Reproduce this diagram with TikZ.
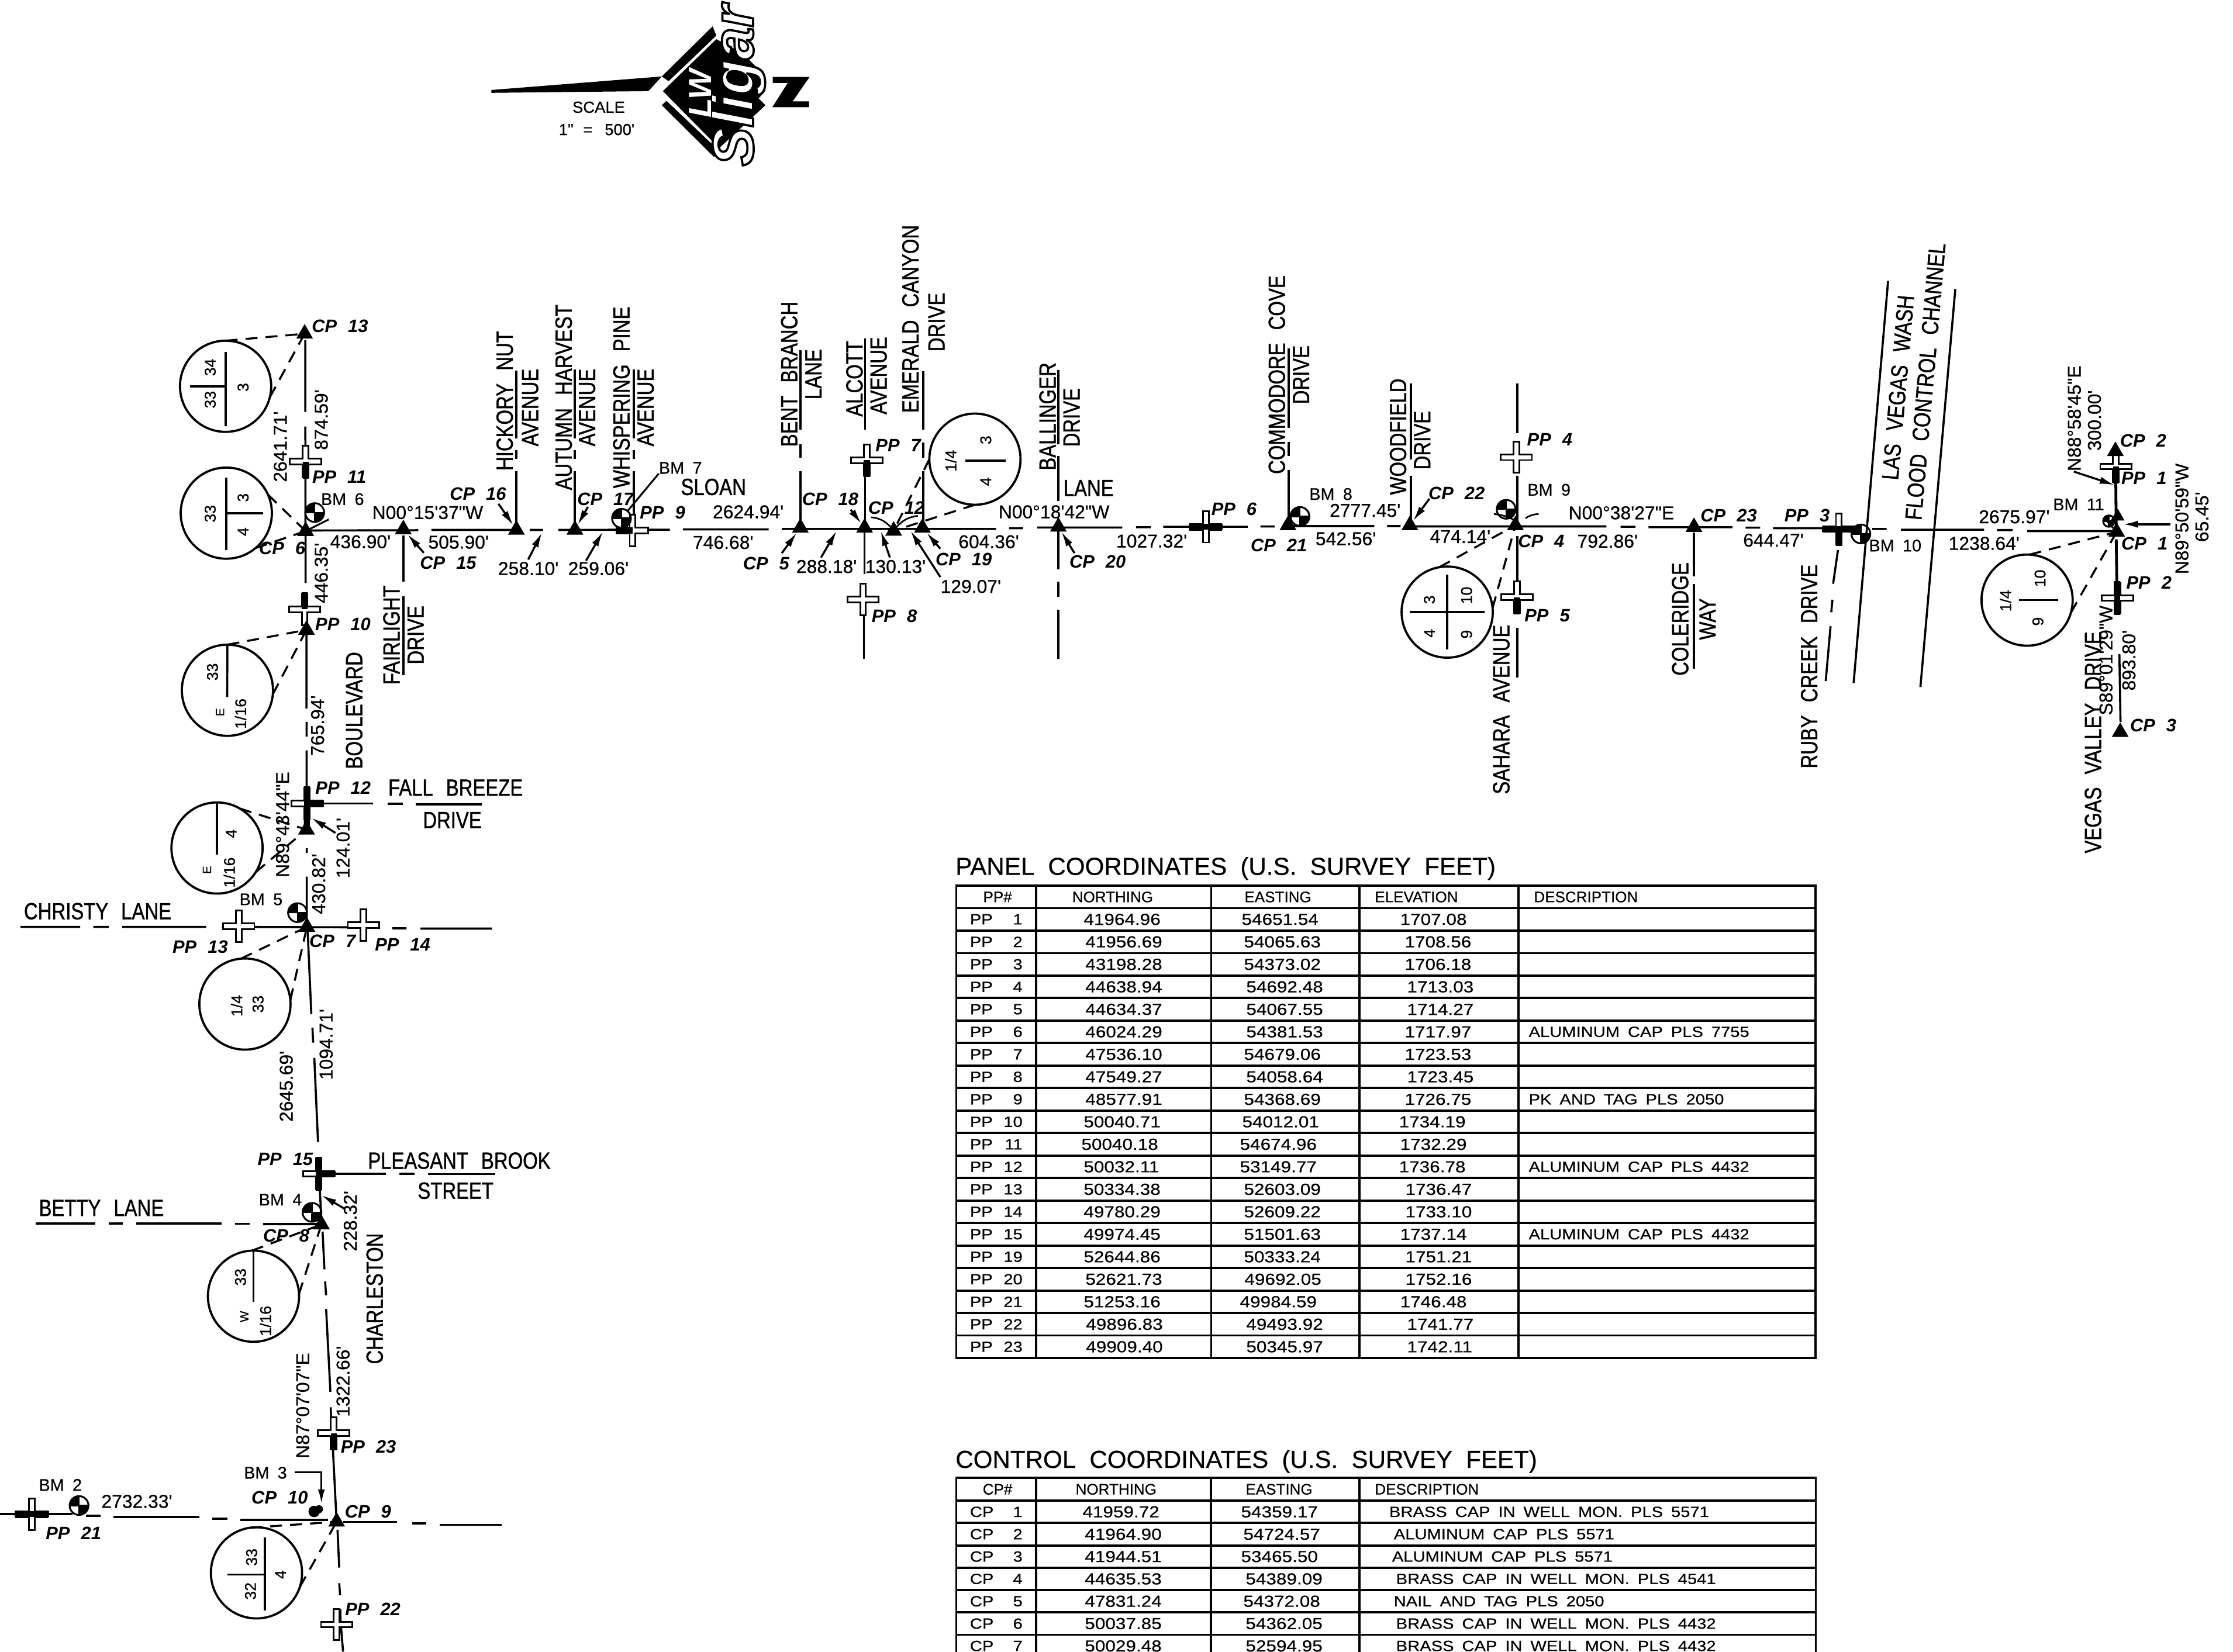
\documentclass[tikz,border=0pt]{standalone}
\usepackage{fontspec}
\usetikzlibrary{shapes.geometric,arrows.meta}
\newfontfamily\lf{Liberation Sans}
\newfontfamily\dmf{Liberation Sans}[FakeBold=.5]
\newfontfamily\stf{Liberation Sans}[FakeStretch=.82,FakeBold=1.1]
\newfontfamily\tbf{Liberation Sans}[FakeStretch=1.15,FakeBold=.5]
\newcount\tn
\newcommand\T[4]{\global\advance\tn by 1 \node[#1] (t\the\tn) at (#2,#3) {#4};}
\tikzset{
 x=.025cm,y=-.025cm,
 every node/.style={inner sep=0,outer sep=0},
 dm/.style={font=\dmf\fontsize{9.3}{10}\selectfont\spaceskip.5em\relax},
 cpl/.style={font=\lf\itshape\bfseries\fontsize{9}{10}\selectfont\spaceskip.62em\relax},
 bml/.style={font=\dmf\fontsize{8.4}{10}\selectfont\spaceskip.5em\relax},
 stn/.style={font=\stf\fontsize{11.7}{12}\selectfont\spaceskip.55em\relax},
 smm/.style={font=\dmf\fontsize{7.8}{9}\selectfont},
 tiny2/.style={font=\dmf\fontsize{6}{7}\selectfont},
 vert/.style={rotate=90},
 ttl/.style={anchor=west,font=\dmf\fontsize{12.3}{14}\selectfont\spaceskip.55em\relax},
 hd/.style={anchor=west,font=\dmf\fontsize{7.6}{9}\selectfont},
 td/.style={anchor=west,font=\tbf\fontsize{8}{9}\selectfont},
 tx/.style={anchor=west,font=\tbf\fontsize{7.4}{9}\selectfont\spaceskip.55em\relax},
 tnum/.style={anchor=east,font=\tbf\fontsize{7.4}{9}\selectfont},
 rd/.style={line width=1.05pt},
 ld/.style={line width=1pt,dash pattern=on 6pt off 4pt},
 ar/.style={line width=1pt,-{Latex[length=7.5pt,width=3.6pt]}},
 arm/.style={line width=3pt},
 tbl/.style={line width=1.1pt},
 cptri/.style={regular polygon,regular polygon sides=3,fill=black,minimum size=.34cm},
 secc/.style={circle,draw,line width=1.1pt,minimum size=1.6cm},
 ppmark/.style={minimum size=.6cm,path picture={\draw[line width=.85pt,fill=white] (-11,-2)--(-2,-2)--(-2,-11)--(2,-11)--(2,-2)--(11,-2)--(11,2)--(2,2)--(2,11)--(-2,11)--(-2,2)--(-11,2)--cycle;}},
 bmk/.style={circle,draw,line width=.9pt,minimum size=.33cm,path picture={\fill (0,0)--(-7,0)--(-7,-7)--(0,-7)--cycle;\fill (0,0)--(7,0)--(7,7)--(0,7)--cycle;\draw[line width=.7pt] (-7,0)--(7,0) (0,-7)--(0,7);}},
}
\begin{document}
\begin{tikzpicture}
\useasboundingbox (0,0) rectangle (1568,1160);
\clip (0,0) rectangle (1568,1160);
% ---------- north arrow and logo
\fill (345,63.2)--(464.7,53.7)--(455.3,64)--(345,65.2)--cycle;
\fill (464.7,53.7)--(500.4,18.5)--(503,25)--(469.5,57)--cycle;
\fill (465.5,64)--(503,27.5)--(520.8,37)--(537,52.7)--(532.7,58.9)--(537.5,63.7)--(532.7,69.1)--(537.5,73.9)--(505,104)--(501.5,100.5)--cycle;
\fill (464.7,73.9)--(468,70.8)--(505,106)--(501.3,110.2)--cycle;
\fill (542.6,54)--(568.5,54)--(556.6,71.2)--(568.1,71.2)--(568.1,75.3)--(542.3,75.3)--(553.2,58.2)--(542.6,58.2)--cycle;
\node[rotate=90,text=white,font=\lf\bfseries\itshape\fontsize{29}{30}\selectfont] (sligar) at (518.3,60) {\special{pdf:code 2 Tr 1.1 w 0 0 0 RG}Sligar\special{pdf:code 0 Tr}};
\node[rotate=90,text=white,font=\lf\bfseries\itshape\fontsize{16}{18}\selectfont] (lwmark) at (491.9,65.7) {LW};
\T{font=\dmf\fontsize{8}{9}\selectfont}{420.4}{75.3}{SCALE}
\T{font=\dmf\fontsize{8}{9}\selectfont\spaceskip.6em\relax}{419}{91}{1" = \,500'}
% ---------- main east-west line
\draw[rd] (215,372.6)--(293.7,372.4) (303,372.2)--(362,372.2) (372,372.2)--(381.4,372.2) (392,372.2)--(460,372) (460,372)--(470.4,372) (479.6,371.8)--(539.8,371.8) (549,371.5)--(699.5,371.5) (708.7,371)--(718.4,371) (728.3,370.5)--(788,370.5) (797.7,370.3)--(808.2,370.3) (816.8,370)--(876.2,370) (885,369.8)--(895,369.8) (901,369.5)--(965,369.5) (974,369.5)--(983.5,369.5) (991,369.7)--(1128,369.7) (1138,370)--(1148.4,370) (1157.6,370.3)--(1216.5,370.3) (1225.7,370.6)--(1236,370.6) (1245,371)--(1300,371) (1314.7,371.5)--(1324.8,371.5) (1334.8,372)--(1393.2,372) (1402.3,372.3)--(1413.3,372.3) (1423.4,373)--(1485,373);
% west north-south line
\draw[rd] (214.4,239)--(214.4,289.3) (214.4,299.6)--(214.4,309) (214.5,309)--(214.5,372) (214.6,372)--(214.6,409.5) (214.6,416)--(214.6,430) (215.2,440)--(215.2,497.7) (215.3,507)--(215.3,517.3) (215.3,527)--(215.3,554) (215.4,595.7)--(215.4,599) (215.4,615.7)--(215.4,647.5) (216,653)--(218.6,712.3) (219.4,721.7)--(219.9,732.3) (220.7,743)--(223.3,802) (224.6,835.8)--(225.7,857.6) (226.5,865)--(227.8,891.5) (228.3,900)--(229,909.7) (229,919.4)--(232,977.5) (232.2,988.4)--(233,1006.6) (233.8,1018.7)--(236.1,1063.5) (237,1074.4)--(238.2,1101) (238.2,1112)--(238.8,1120.4) (238.9,1130)--(239.3,1143) (239.5,1143)--(240.9,1160);
% cross streets, west side
\draw[rd] (215.5,564.3)--(261.8,564.3) (272.3,564.6)--(282.7,564.6) (291.9,565)--(338.2,565);
\draw[rd] (14.4,651)--(56.3,651) (65.5,651)--(76.4,651) (85.9,651)--(144.8,651) (155.8,651)--(255,651.3) (275.4,652)--(285.4,652) (295.3,652.2)--(345.6,652.2);
\draw[rd] (223.8,824.4)--(271,824.4) (280.6,824.4)--(291.1,824.4) (300.5,824.6)--(347.7,824.6);
\draw[rd] (24.9,859.3)--(66.8,859.3) (76.4,859.3)--(86.4,859.3) (95.6,859.3)--(155.8,859.3) (164.9,859.5)--(175.4,859.5) (184.6,859.7)--(222.5,859.7);
\draw[rd] (0,1063.5)--(51,1063.5) (60.2,1064.7)--(70.7,1064.7) (79.8,1065.4)--(140,1065.4) (149.2,1066.6)--(159.7,1066.6) (168.9,1067.6)--(230.4,1067.6) (240.9,1069)--(278.8,1069) (289.3,1070)--(299.2,1070) (308.9,1071)--(352.1,1071);
% north-south streets along the main line
\draw[rd] (362.6,260.3)--(362.6,308) (362.6,316)--(362.6,322.3) (362.6,331)--(362.6,372);
\draw[rd] (403.7,259.5)--(403.7,308) (403.7,316)--(403.7,322.3) (403.7,331)--(403.7,372);
\draw[rd] (445,259.5)--(445,308) (445,316)--(445,322.3) (445,331)--(445,372);
\draw[rd] (283.2,376)--(283.2,408.7) (283.2,418.8)--(283.2,474.2);
\draw[rd] (562,246)--(562,301.6) (562,312)--(562,321.5) (562,331)--(562,370.7);
\draw[rd] (607.4,237.7)--(607.4,301.6) (607.4,312)--(607.4,371) (607,374)--(607,403) (606.6,432.5)--(606.6,462.8);
\draw[rd] (648.2,260.7)--(648.2,301.6) (648.2,311)--(648.2,321.5) (648.2,331)--(648.2,371.7);
\draw[rd] (743.2,259.7)--(743.2,312) (743.2,320.4)--(743.2,351.9) (743.2,365.5)--(743.2,400) (743.2,408.4)--(743.2,419) (743.2,428.4)--(743.2,462.9);
\draw[rd] (905,244.5)--(905,300.5) (905,310.4)--(905,320.4) (905,330.3)--(905,364);
\draw[rd] (990.6,269.4)--(990.6,322.9) (990.6,334)--(990.6,366.4);
\draw[rd] (1065.4,269.4)--(1065.4,304.2) (1065.4,334)--(1065.4,372) (1065.4,376.4)--(1065.4,408.7) (1065.4,441)--(1065.4,476);
\draw[rd] (1189.5,373.9)--(1189.5,405) (1189.5,410)--(1189.5,469.7);
\draw[rd] (1290.6,386.3)--(1287.2,410) (1286.7,421.2)--(1285.9,430) (1285.4,439.8)--(1282,478.3);
\draw[rd] (1325.8,197.3)--(1301.6,479.7) (1373,203)--(1348.5,482.6);
\draw[line width=1.4pt] (1485.5,318)--(1486,373);
\draw[line width=1.4pt] (1486,378.8)--(1486.4,409);
\draw[rd] (1488.2,459.5)--(1489,507);
% ---------- panel points
\node[ppmark] (pp1) at (1485.8,327.6) {};
\node[ppmark] (pp2) at (1486.8,420) {};
\node[ppmark] (pp3) at (1291.2,371.6) {};
\node[ppmark] (pp4) at (1064.7,321.1) {};
\node[ppmark] (pp5) at (1065.2,419.4) {};
\node[ppmark] (pp6) at (846.7,370) {};
\node[ppmark] (pp7) at (608.7,323.2) {};
\node[ppmark] (pp8) at (606,421) {};
\node[ppmark] (pp9) at (444.2,372.6) {};
\node[ppmark] (pp10) at (213.9,428) {};
\node[ppmark] (pp11) at (214.6,324.2) {};
\node[ppmark] (pp12) at (215.5,564.3) {};
\node[ppmark] (pp13) at (167.6,650.6) {};
\node[ppmark] (pp14) at (255.3,649.8) {};
\node[ppmark] (pp15) at (223.8,824.4) {};
\node[ppmark] (pp21) at (22.3,1063.5) {};
\node[ppmark] (pp22) at (236.4,1141) {};
\node[ppmark] (pp23) at (234.3,1006.6) {};
\draw[arm] (pp1.center)--(pp1.south) (pp2.center)--(pp2.north) (pp2.center)--(pp2.south) (pp3.west)--(pp3.center)--(pp3.south) (pp3.center)--(pp3.east) (pp5.center)--(pp5.south) (pp6.west)--(pp6.east) (pp7.center)--(pp7.south) (pp9.west)--(pp9.center) (pp10.center)--(pp10.north) (pp11.center)--(pp11.south) (pp12.north)--(pp12.south) (pp12.center)--(pp12.east) (pp15.north)--(pp15.south) (pp15.center)--(pp15.east) (pp21.west)--(pp21.east) (pp23.center)--(pp23.south);
\draw[arm] (pp12.south)--(215.3,582);
% ---------- control points
\node[cptri] (cp1) at (1486.3,373.6) {};
\node[cptri] (cp2) at (1485.4,316.9) {};
\node[cptri] (cp3) at (1488.8,514.2) {};
\node[cptri] (cp4) at (1064.1,368.9) {};
\node[cptri] (cp5) at (562,370.7) {};
\node[cptri] (cp6) at (214.6,373) {};
\node[cptri] (cp7) at (215.5,651) {};
\node[cptri] (cp8) at (225.7,860) {};
\node[cptri] (cp9) at (236.4,1068.8) {};
\node[cptri] (cp11) at (215.2,582.7) {};
\node[cptri] (cp12) at (627.5,372.8) {};
\node[cptri] (cp13) at (213.9,234.4) {};
\node[cptri] (cp14) at (215.2,442.4) {};
\node[cptri] (cp15) at (283.2,371.8) {};
\node[cptri] (cp16) at (362.6,372.1) {};
\node[cptri] (cp17) at (403.7,372.1) {};
\node[cptri] (cp18) at (607.1,370.7) {};
\node[cptri] (cp19) at (647.7,370.7) {};
\node[cptri] (cp20) at (743.2,370) {};
\node[cptri] (cp21) at (904.4,368.9) {};
\node[cptri] (cp22) at (990,368.9) {};
\node[cptri] (cp23) at (1189.5,370.2) {};
\node[cptri,minimum size=.28cm] (cp24) at (1487,362.8) {};
\node[circle,fill=black,minimum size=.2cm] (cp10a) at (220.6,1061.6) {};
\node[circle,fill=black,minimum size=.14cm] (cp10b) at (224,1060) {};
% ---------- bench marks
\node[bmk] (bm2) at (55.5,1057.4) {};
\node[bmk] (bm4) at (219.1,851.5) {};
\node[bmk] (bm5) at (208.9,641) {};
\node[bmk] (bm6) at (221,360) {};
\node[bmk] (bm7) at (436.4,364) {};
\node[bmk] (bm8) at (912.8,362.7) {};
\node[bmk] (bm9) at (1057.6,357.7) {};
\node[bmk] (bm10) at (1306.7,375) {};
\node[bmk,minimum size=.2cm] (bm11) at (1480.8,366) {};
% ---------- section ties
\node[secc] (c1) at (158.4,271.3) {};
\node[secc] (c2) at (158.9,360.4) {};
\node[secc] (c3) at (159.7,484.8) {};
\node[secc] (c4) at (152.4,595.6) {};
\node[secc] (c5) at (172,705.2) {};
\node[secc] (c6) at (178,910.4) {};
\node[secc] (c7) at (180.1,1104.7) {};
\node[secc] (c8) at (684.6,322.5) {};
\node[secc] (c9) at (1016.2,429.9) {};
\node[secc] (c10) at (1423.4,421.5) {};
\draw[rd] (c1.center)+(0,-24)--+(0,28) (c1.center)--+(-25,0);
\draw[rd] (c2.center)+(0,-25)--+(0,26) (c2.center)--+(26,0);
\draw[rd] (c3.north)--(159.5,489.6);
\draw[rd] (c4.north)--(152.4,600.3);
\draw[rd] (c6.north)--(178,914.5);
\draw[rd] (185.9,1080)--(185.9,1131.3) (159.7,1105.9)--(185.9,1105.9);
\draw[rd] (678,323.6)--(706,323.6);
\draw[rd] (1016.2,403.7)--(1016.2,456) (990,429.9)--(1042.4,429.9);
\draw[rd] (1417.8,421.5)--(1445.1,421.5);
\draw[ld] (c1.90)--(cp13.center) (c1.-14)--(cp13.center);
\draw[ld] (c2.24)--(cp6.center) (c2.-50)--(cp6.center);
\draw[ld] (c3.90)--(cp14.center) (c3.-5)--(cp14.center);
\draw[ld] (c4.60)--(cp11.center) (c4.-32)--(cp11.center);
\draw[ld] (c5.95)--(cp7.center) (c5.5)--(cp7.center);
\draw[ld] (c6.92)--(cp8.center) (c6.3)--(cp8.center);
\draw[ld] (c7.98)--(cp9.center) (c7.-18)--(cp9.center);
\draw[ld] (c8.180)--(cp12.center) (c8.-90)--(cp12.center);
\draw[ld] (c9.100)--(cp4.center) (c9.5)--(cp4.center);
\draw[ld] (c10.87)--(cp1.center) (c10.-16)--(cp1.center);
% ---------- section labels
\T{smm,vert}{147.6}{258}{34}\T{smm,vert}{147.6}{280.7}{33}\T{smm,vert}{170.7}{272}{3}
\T{smm,vert}{147.6}{360.8}{33}\T{smm,vert}{170.7}{349.5}{3}\T{smm,vert}{170.7}{373.4}{4}
\T{smm,vert}{149.2}{471.9}{33}\T{tiny2,vert}{154.5}{500.2}{E}\T{smm,vert}{168.9}{501.3}{1/16}
\T{smm,vert}{162.3}{585.5}{4}\T{tiny2,vert}{145.3}{611}{E}\T{smm,vert}{161}{612.8}{1/16}
\T{smm,vert}{166.2}{706.4}{1/4}\T{smm,vert}{181.2}{705.2}{33}
\T{smm,vert}{168.9}{897}{33}\T{tiny2,vert}{171.5}{924.7}{W}\T{smm,vert}{186.4}{927.8}{1/16}
\T{smm,vert}{176.7}{1093.7}{33}\T{smm,vert}{175.9}{1117.5}{32}\T{smm,vert}{196.9}{1105.9}{4}
\T{smm,vert}{667.6}{323.6}{1/4}\T{smm,vert}{692.2}{309}{3}\T{smm,vert}{692.2}{338.2}{4}
\T{smm,vert}{1003.7}{421.2}{3}\T{smm,vert}{1029.8}{418.2}{10}\T{smm,vert}{1003.7}{444.8}{4}\T{smm,vert}{1029.8}{445.5}{9}
\T{smm,vert}{1408.3}{422}{1/4}\T{smm,vert}{1432.5}{406.2}{10}\T{smm,vert}{1431}{436.5}{9}
% ---------- leaders
\draw[ar] (350,353.8)--(cp16);
\draw[ar] (412.8,356)--(cp17);
\draw[ar] (370.9,393)--(380.6,374);
\draw[ar] (411.5,393.8)--(423.3,373.4);
\draw[ar] (297.6,388.3)--(cp15);
\draw[line width=.9pt] (462.6,332.6)--(bm7);
\draw[ar] (549,388.5)--(cp5);
\draw[ar] (576.5,391.6)--(587.5,372.8);
\draw[ar] (597.4,358)--(cp18);
\draw[ar] (624.9,391.6)--(618.4,372.8);
\draw[ar] (660.3,385.4)--(cp19);
\draw[ar] (660.3,405.3)--(639.3,372.8);
\draw[ar] (754.5,388.5)--(cp20);
\draw[ar] (1003.7,350.3)--(cp22);
\draw[ar] (235.6,585)--(218.6,574.4);
\draw[ar] (242.2,849.1)--(225.7,839.4);
\draw[ar] (1456.2,331.2)--(1484.9,340.7);
\draw[ar] (1524,368.2)--(1490.8,368.2);
\draw[line width=.8pt] (1478.2,364.8)--(cp1);
\draw[line width=.9pt,-{Latex[length=7pt,width=3.4pt]}] (207,1034)--(225.7,1034)--(225.7,1056);
\draw[line width=.8pt] (611.8,363.3) to[bend left=20] (cp12);
\draw[line width=.8pt] (644.5,362.3) to[bend right=20] (cp12);
\draw[line width=.8pt] (1080.4,361) to[bend right=15] (1071.2,364);
\draw[line width=.8pt] (1049,361) to[bend left=10] (1063.3,365.2);
\draw[line width=.9pt] (230.9,364.8)--(cp6);
% ---------- dimensions
\T{dm,vert}{225.6}{294.8}{874.59'}
\T{dm,vert}{196.8}{313.7}{2641.71'}
\T{dm}{300.3}{360}{N00°15'37"W}
\T{dm}{253.1}{380.5}{436.90'}
\T{dm}{322}{380.8}{505.90'}
\T{dm,vert}{225.6}{402.5}{446.35'}
\T{dm}{371}{399.3}{258.10'}
\T{dm}{420.2}{399.3}{259.06'}
\T{dm,vert}{223}{509.6}{765.94'}
\T{dm,vert}{198.4}{579.1}{N89°43'44"E}
\T{dm,vert}{240.9}{595.6}{124.01'}
\T{dm,vert}{223.8}{620.8}{430.82'}
\T{dm,vert}{229}{733.5}{1094.71'}
\T{dm,vert}{201}{763}{2645.69'}
\T{dm,vert}{246}{857.6}{228.32'}
\T{dm,vert}{212.6}{987.2}{N87°07'07"E}
\T{dm,vert}{240.9}{970.2}{1322.66'}
\T{dm}{96.1}{1054.5}{2732.33'}
\T{dm}{525.4}{359.5}{2624.94'}
\T{dm}{507.8}{381}{746.68'}
\T{dm}{580.4}{397.9}{288.18'}
\T{dm}{628.8}{397.9}{130.13'}
\T{dm}{681.7}{411.9}{129.07'}
\T{dm}{694.3}{380.5}{604.36'}
\T{dm}{740.1}{359.5}{N00°18'42"W}
\T{dm}{808.7}{380}{1027.32'}
\T{dm}{958.6}{358.5}{2777.45'}
\T{dm}{945}{378.4}{542.56'}
\T{dm}{1025.4}{376.9}{474.14'}
\T{dm}{1128.8}{380.1}{792.86'}
\T{dm}{1138.5}{360.2}{N00°38'27"E}
\T{dm}{1245.3}{379.4}{644.47'}
\T{dm}{1414.4}{363}{2675.97'}
\T{dm}{1393.2}{381.7}{1238.64'}
\T{dm,vert}{1456.6}{293.8}{N88°58'45"E}
\T{dm,vert}{1470.7}{295.3}{300.00'}
\T{dm,vert}{1532.1}{364.4}{N89°50'59"W}
\T{dm,vert}{1546.2}{363}{65.45'}
\T{dm,vert}{1478.8}{463.8}{S89°01'29"W}
\T{dm,vert}{1494.9}{463.8}{893.80'}
% ---------- point labels
\T{cpl}{238.7}{229.2}{CP 13}
\T{cpl}{238.2}{334.9}{PP 11}
\T{cpl}{198.2}{385.2}{CP 6}
\T{cpl}{240.8}{438.6}{PP 10}
\T{cpl}{314.7}{395.4}{CP 15}
\T{cpl}{335.6}{346.7}{CP 16}
\T{cpl}{425.1}{350.6}{CP 17}
\T{cpl}{465.2}{360}{PP 9}
\T{cpl}{240.9}{553.2}{PP 12}
\T{cpl}{140.6}{665.2}{PP 13}
\T{cpl}{233.5}{660.9}{CP 7}
\T{cpl}{282.7}{663.3}{PP 14}
\T{cpl}{200.3}{814}{PP 15}
\T{cpl}{201}{867.8}{CP 8}
\T{cpl}{258.7}{1016.2}{PP 23}
\T{cpl}{196.4}{1051.9}{CP 10}
\T{cpl}{258.4}{1061.5}{CP 9}
\T{cpl}{51.6}{1076.8}{PP 21}
\T{cpl}{261.8}{1130.1}{PP 22}
\T{cpl}{538}{395.8}{CP 5}
\T{cpl}{583}{350.7}{CP 18}
\T{cpl}{629.4}{356.6}{CP 12}
\T{cpl}{630.7}{313}{PP 7}
\T{cpl}{628}{432.8}{PP 8}
\T{cpl}{676.7}{393}{CP 19}
\T{cpl}{770.7}{394.7}{CP 20}
\T{cpl}{866.5}{357.4}{PP 6}
\T{cpl}{898}{383}{CP 21}
\T{cpl}{1022.8}{346.5}{CP 22}
\T{cpl}{1088.2}{308.5}{PP 4}
\T{cpl}{1086.4}{432.4}{PP 5}
\T{cpl}{1082.2}{380.1}{CP 4}
\T{cpl}{1213.9}{362}{CP 23}
\T{cpl}{1268.9}{362}{PP 3}
\T{cpl}{1505.9}{381.7}{CP 1}
\T{cpl}{1504.9}{309.7}{CP 2}
\T{cpl}{1505.5}{335.6}{PP 1}
\T{cpl}{1509}{409.1}{PP 2}
\T{cpl}{1512}{509.3}{CP 3}
\T{bml}{240.5}{350.6}{BM 6}
\T{bml}{477.8}{328.6}{BM 7}
\T{bml}{183.3}{631.7}{BM 5}
\T{bml}{196.9}{842.6}{BM 4}
\T{bml}{186.4}{1034.4}{BM 3}
\T{bml}{42.4}{1042.9}{BM 2}
\T{bml}{934.5}{347}{BM 8}
\T{bml}{1087.7}{344}{BM 9}
\T{bml}{1330.8}{383.2}{BM 10}
\T{bml}{1459.6}{354.3}{BM 11}
% ---------- street names
\T{stn,vert}{354.4}{281.5}{HICKORY NUT}
\T{stn,vert}{372.3}{286.2}{AVENUE}
\T{stn,vert}{395.8}{279.1}{AUTUMN HARVEST}
\T{stn,vert}{412.3}{286.2}{AVENUE}
\T{stn,vert}{436.4}{279.1}{WHISPERING PINE}
\T{stn,vert}{453.4}{286.2}{AVENUE}
\T{stn,vert}{274.9}{446}{FAIRLIGHT}
\T{stn,vert}{291.9}{446}{DRIVE}
\T{stn,vert}{248.7}{499}{BOULEVARD}
\T{stn}{319.9}{553.2}{FALL BREEZE}
\T{stn}{317.6}{576}{DRIVE}
\T{stn}{68.6}{640}{CHRISTY LANE}
\T{stn}{322.5}{815.2}{PLEASANT BROOK}
\T{stn}{319.9}{836.3}{STREET}
\T{stn}{71.2}{848.4}{BETTY LANE}
\T{stn,vert}{263.1}{912.1}{CHARLESTON}
\T{stn}{501}{342}{SLOAN}
\T{stn,vert}{554.2}{262.8}{BENT BRANCH}
\T{stn,vert}{571.2}{262.8}{LANE}
\T{stn,vert}{600}{266}{ALCOTT}
\T{stn,vert}{617}{263.8}{AVENUE}
\T{stn,vert}{639.3}{224}{EMERALD CANYON}
\T{stn,vert}{657.6}{226.2}{DRIVE}
\T{stn,vert}{735.6}{292.5}{BALLINGER}
\T{stn,vert}{752.4}{293.2}{DRIVE}
\T{stn}{764.4}{342.8}{LANE}
\T{stn,vert}{896.6}{263.2}{COMMODORE COVE}
\T{stn,vert}{913.6}{263.2}{DRIVE}
\T{stn,vert}{981.7}{306.7}{WOODFIELD}
\T{stn,vert}{998.7}{309.2}{DRIVE}
\T{stn,vert}{1054.2}{498.3}{SAHARA AVENUE}
\T{stn,vert}{1179.8}{434.8}{COLERIDGE}
\T{stn,vert}{1199}{434.8}{WAY}
\T{stn,vert}{1270.4}{468.1}{RUBY CREEK DRIVE}
\T{stn,rotate=85}{1332.8}{272.2}{LAS VEGAS WASH}
\T{stn,rotate=85}{1352}{268}{FLOOD CONTROL CHANNEL}
\T{stn,vert}{1469.7}{521.4}{VEGAS VALLEY DRIVE}
% ---------- panel table
\T{ttl}{671}{610}{PANEL COORDINATES (U.S. SURVEY FEET)}
\draw[tbl] (671.5,622) rectangle (1274.9,953.8);
\foreach \xx in {727.5,850.5,954.6,1066.3} \draw[tbl] (\xx,622)--(\xx,953.8);
\foreach \i in {1,...,20} \draw[tbl] (671.5,{622+15.8*\i})--(1274.9,{622+15.8*\i});
\T{hd,anchor=center}{700.5}{630}{PP\#}
\T{hd}{752.9}{630}{NORTHING}
\T{hd}{873.9}{630}{EASTING}
\T{hd}{965.4}{630}{ELEVATION}
\T{hd}{1077.1}{630}{DESCRIPTION}
\foreach \n/\a/\b/\c/\d/\e/\f/\g [count=\i] in {
1/258/41964.96/533/54651.54/809/1707.08/{},
2/261/41956.69/537/54065.63/817/1708.56/{},
3/261/43198.28/537/54373.02/817/1706.18/{},
4/261/44638.94/541/54692.48/821/1713.03/{},
5/261/44634.37/541/54067.55/821/1714.27/{},
6/261/46024.29/541/54381.53/817/1717.97/{ALUMINUM CAP PLS 7755},
7/261/47536.10/537/54679.06/817/1723.53/{},
8/261/47549.27/541/54058.64/821/1723.45/{},
9/261/48577.91/537/54368.69/817/1726.75/{PK AND TAG PLS 2050},
10/258/50040.71/534/54012.01/807/1734.19/{},
11/254/50040.18/530/54674.96/809/1732.29/{},
12/258/50032.11/530/53149.77/807/1736.78/{ALUMINUM CAP PLS 4432},
13/258/50334.38/537/52603.09/818/1736.47/{},
14/258/49780.29/537/52609.22/818/1733.10/{},
15/258/49974.45/537/51501.63/809/1737.14/{ALUMINUM CAP PLS 4432},
19/258/52644.86/537/50333.24/818/1751.21/{},
20/261/52621.73/538/49692.05/818/1752.16/{},
21/258/51253.16/530/49984.59/809/1746.48/{},
22/262/49896.83/541/49493.92/821/1741.77/{},
23/262/49909.40/541/50345.97/821/1742.11/{}}{
 \pgfmathsetmacro\yy{622+15.8*\i+7.9}
 \node[tx] (pa\i) at (681.1,\yy) {PP};
 \node[tnum] (pb\i) at (718,\yy) {\n};
 \node[td] (pc\i) at ({.4033*\a+656.9},\yy) {\b};
 \node[td] (pd\i) at ({.4033*\c+656.9},\yy) {\d};
 \node[td] (pe\i) at ({.4033*\e+656.9},\yy) {\f};
 \node[tx] (pf\i) at (1073.5,\yy) {\g};
}
% ---------- control table
\T{ttl}{671}{1026.5}{CONTROL COORDINATES (U.S. SURVEY FEET)}
\draw[tbl] (671.5,1038) rectangle (1275,1170);
\foreach \xx in {727.5,850.2,954.5} \draw[tbl] (\xx,1038)--(\xx,1170);
\foreach \i in {0,...,6} \draw[tbl] (671.5,{1054+15.7*\i})--(1275,{1054+15.7*\i});
\T{hd,anchor=center}{700.5}{1046}{CP\#}
\T{hd}{755.3}{1046}{NORTHING}
\T{hd}{874.7}{1046}{EASTING}
\T{hd}{965.4}{1046}{DESCRIPTION}
\foreach \n/\a/\b/\c/\d/\e/\g [count=\i] in {
1/256/41959.72/532/54359.17/790/{BRASS CAP IN WELL MON. PLS 5571},
2/260/41964.90/536/54724.57/798/{ALUMINUM CAP PLS 5571},
3/260/41944.51/532/53465.50/795/{ALUMINUM CAP PLS 5571},
4/260/44635.53/540/54389.09/802/{BRASS CAP IN WELL MON. PLS 4541},
5/260/47831.24/536/54372.08/798/{NAIL AND TAG PLS 2050},
6/260/50037.85/540/54362.05/802/{BRASS CAP IN WELL MON. PLS 4432},
7/260/50029.48/540/52594.95/802/{BRASS CAP IN WELL MON. PLS 4432}}{
 \pgfmathsetmacro\yy{1054+15.7*\i-7.85}
 \node[tx] (qa\i) at (681.1,\yy) {CP};
 \node[tnum] (qb\i) at (718,\yy) {\n};
 \node[td] (qc\i) at ({.4033*\a+656.9},\yy) {\b};
 \node[td] (qd\i) at ({.4033*\c+656.9},\yy) {\d};
 \node[tx] (qf\i) at ({.4033*\e+656.9},\yy) {\g};
}
\end{tikzpicture}
\end{document}
